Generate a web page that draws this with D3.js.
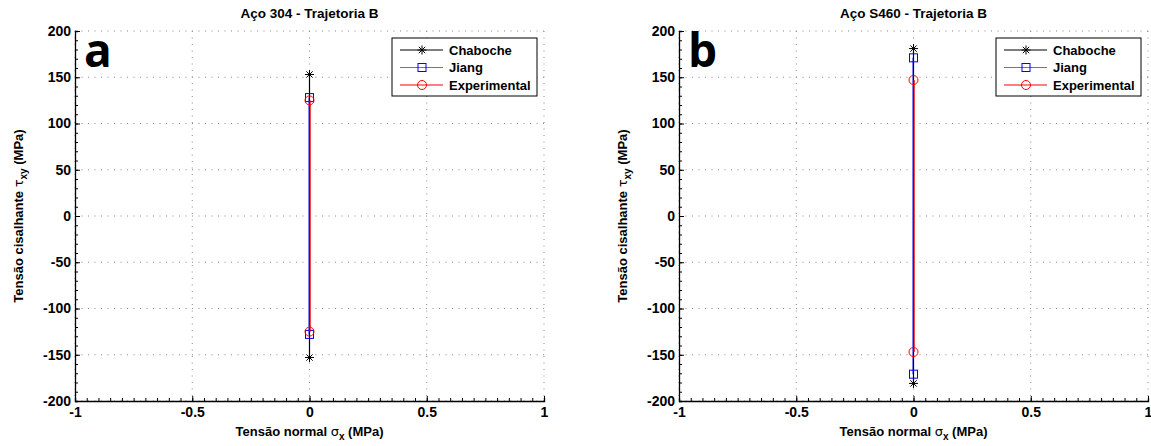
<!DOCTYPE html>
<html>
<head>
<meta charset="utf-8">
<script src="https://cdn.jsdelivr.net/npm/d3@7"></script>
<style>
  body { margin: 0; background: white; }
  svg text { font-family: "Liberation Sans", Arial, sans-serif; font-weight: bold; }
</style>
</head>
<body>
<div id="chart"></div>
<script>
// DATA
const seriesNames = ['Chaboche', 'Jiang', 'Experimental'];
const seriesColors = ['#000000', '#0000ff', '#ff0000'];
const seriesMarkers = ['star', 'square', 'circle'];
const panelTitles = ['Aço 304 - Trajetoria B', 'Aço S460 - Trajetoria B'];
const panelLetters = ['a', 'b'];
const aco304 = [153, 128, 125];
const s460 = [181, 171, 147];
const xTicks = [-1, -0.5, 0, 0.5, 1];
const yTicks = [-200, -150, -100, -50, 0, 50, 100, 150, 200];

const width = 1151, height = 446;

const svg = d3.select('#chart')
  .append('svg')
  .attr('width', width)
  .attr('height', height);

function drawPanel(left, amps, title, letter) {
  const right = left + 469, top = 31, bottom = 401;
  const x = d3.scaleLinear().domain([-1, 1]).range([left, right]);
  const y = d3.scaleLinear().domain([-200, 200]).range([bottom, top]);
  const g = svg.append('g');

  // GRID
  g.selectAll('.gx').data(xTicks).enter().append('line')
    .attr('x1', d => x(d)).attr('x2', d => x(d))
    .attr('y1', top).attr('y2', bottom)
    .attr('stroke', '#888').attr('stroke-width', 1)
    .attr('stroke-dasharray', '1,5.5');
  g.selectAll('.gy').data(yTicks).enter().append('line')
    .attr('x1', left).attr('x2', right)
    .attr('y1', d => y(d)).attr('y2', d => y(d))
    .attr('stroke', '#888').attr('stroke-width', 1)
    .attr('stroke-dasharray', '1,5.5');

  // AXES (ticks inward)
  const xAxis = g.append('g')
    .attr('transform', `translate(0,${bottom})`)
    .call(d3.axisBottom(x).tickValues(d3.range(-1, 1.0001, 0.05)).tickSize(-3).tickFormat(''));
  xAxis.select('.domain').attr('stroke-width', 1.3);
  g.append('g')
    .attr('transform', `translate(0,${bottom})`)
    .call(d3.axisBottom(x).tickValues(xTicks).tickSize(-5).tickFormat(d => String(d)))
    .call(a => a.select('.domain').remove())
    .selectAll('text')
    .attr('y', 6)
    .attr('dy', '0.71em')
    .style('font-size', '14px');

  const yAxis = g.append('g')
    .attr('transform', `translate(${left},0)`)
    .call(d3.axisLeft(y).tickValues(d3.range(-200, 201, 10)).tickSize(-3).tickFormat(''));
  yAxis.select('.domain').attr('stroke-width', 1.3);
  g.append('g')
    .attr('transform', `translate(${left},0)`)
    .call(d3.axisLeft(y).tickValues(yTicks).tickSize(-5).tickFormat(d => String(d)))
    .call(a => a.select('.domain').remove())
    .selectAll('text')
    .attr('x', -4)
    .style('font-size', '14px');

  // TITLE
  g.append('text')
    .attr('x', (left + right) / 2).attr('y', 18)
    .attr('text-anchor', 'middle')
    .style('font-size', '13.5px')
    .text(title);

  // PANEL LETTER
  g.append('text')
    .attr('x', left + 9).attr('y', 67)
    .style('font-size', '46px')
    .style('font-family', '"Open Sans", "Liberation Sans", sans-serif')
    .text(letter);

  // AXIS LABELS
  const xl = g.append('text')
    .attr('x', (left + right) / 2).attr('y', 436)
    .attr('text-anchor', 'middle')
    .style('font-size', '13px');
  xl.append('tspan').text('Tensão normal ');
  xl.append('tspan').style('font-family', '"DejaVu Sans", sans-serif').style('font-weight', 'normal').text('σ');
  xl.append('tspan').attr('dy', 4).style('font-size', '10px').text('x');
  xl.append('tspan').attr('dy', -4).text(' (MPa)');

  const yl = g.append('text')
    .attr('transform', `translate(${left - 52},${(top + bottom) / 2}) rotate(-90)`)
    .attr('text-anchor', 'middle')
    .style('font-size', '13px');
  yl.append('tspan').text('Tensão cisalhante ');
  yl.append('tspan').style('font-family', '"DejaVu Sans", sans-serif').style('font-weight', 'normal').text('τ');
  yl.append('tspan').attr('dy', 4).style('font-size', '10px').text('xy');
  yl.append('tspan').attr('dy', -4).text(' (MPa)');

  // SERIES
  amps.forEach((a, i) => {
    const pts = [[0, a], [0, -a]];
    const off = i === 1 ? -0.7 : (i === 2 ? 0.6 : 0);
    g.append('line')
      .attr('x1', x(pts[0][0]) + off).attr('x2', x(pts[1][0]) + off)
      .attr('y1', y(pts[0][1])).attr('y2', y(pts[1][1]))
      .attr('stroke', seriesColors[i])
      .attr('stroke-opacity', i === 1 ? 0.55 : 1)
      .attr('stroke-width', 1.2);
    pts.forEach(p => drawMarker(g, seriesMarkers[i], x(p[0]), y(p[1]), seriesColors[i]));
  });

  // LEGEND
  const lx = right - 152, ly = 38;
  const leg = g.append('g');
  leg.append('rect')
    .attr('x', lx).attr('y', ly).attr('width', 145).attr('height', 58)
    .attr('fill', 'white').attr('stroke', 'black').attr('stroke-width', 1);
  seriesNames.forEach((n, i) => {
    const ry = ly + 12 + i * 17.5;
    leg.append('line')
      .attr('x1', lx + 8).attr('x2', lx + 51)
      .attr('y1', ry).attr('y2', ry)
      .attr('stroke', seriesColors[i])
      .attr('stroke-opacity', i === 1 ? 0.6 : 1)
      .attr('stroke-width', 1.2);
    drawMarker(leg, seriesMarkers[i], lx + 30, ry, seriesColors[i]);
    leg.append('text')
      .attr('x', lx + 57).attr('y', ry + 4.5)
      .style('font-size', '13px')
      .text(n);
  });
}

function drawMarker(g, type, cx, cy, color) {
  if (type === 'star') {
    const r = 4.5;
    [[-r, 0, r, 0], [0, -r, 0, r], [-r * 0.7, -r * 0.7, r * 0.7, r * 0.7], [-r * 0.7, r * 0.7, r * 0.7, -r * 0.7]]
      .forEach(s => g.append('line')
        .attr('x1', cx + s[0]).attr('y1', cy + s[1])
        .attr('x2', cx + s[2]).attr('y2', cy + s[3])
        .attr('stroke', color).attr('stroke-width', 1));
  } else if (type === 'square') {
    g.append('rect')
      .attr('x', cx - 4).attr('y', cy - 4).attr('width', 8).attr('height', 8)
      .attr('fill', 'none').attr('stroke', color).attr('stroke-width', 1);
  } else {
    g.append('circle')
      .attr('cx', cx).attr('cy', cy).attr('r', 4.5)
      .attr('fill', 'none').attr('stroke', color).attr('stroke-width', 1);
  }
}

drawPanel(75, aco304, panelTitles[0], panelLetters[0]);
drawPanel(679, s460, panelTitles[1], panelLetters[1]);
</script>
</body>
</html>
